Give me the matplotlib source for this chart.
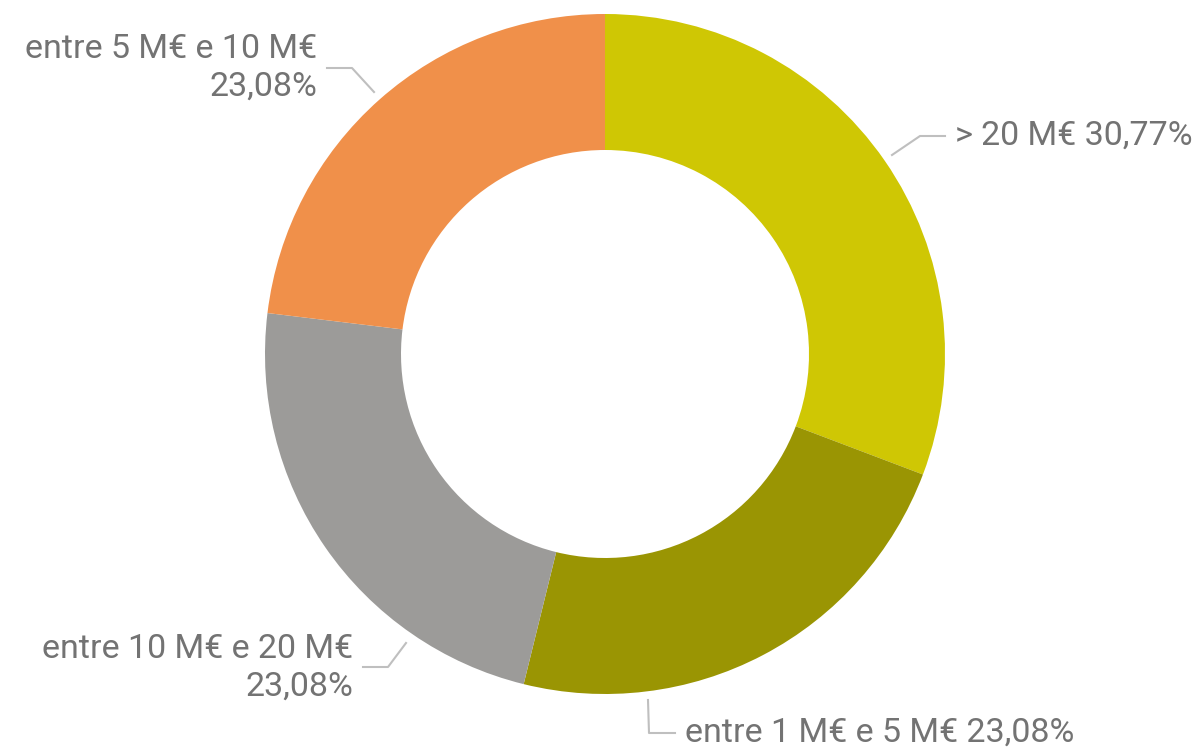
import matplotlib.pyplot as plt

# data
labels = ["> 20 M€", "entre 1 M€ e 5 M€", "entre 10 M€ e 20 M€", "entre 5 M€ e 10 M€"]
values = [30.77, 23.08, 23.08, 23.08]
colors = ["#CFC704", "#9A9503", "#9C9B99", "#F0904A"]

W, H = 1201, 747
cx, cy, R = 605, 354, 340   # pie centre / radius in pixels

plt.rcParams['font.family'] = ['Roboto', 'DejaVu Sans']
fig = plt.figure(figsize=(W / 100, H / 100), dpi=100)
ax = fig.add_axes([0, 0, 1, 1])
wedges, _ = ax.pie(values, colors=colors, startangle=90, counterclock=False,
                   radius=1, wedgeprops=dict(width=0.4, linewidth=0))
ax.set_xlim(-cx / R, (W - cx) / R)
ax.set_ylim(-(H - cy) / R, cy / R)
ax.set_aspect('equal')
ax.axis('off')


def px(x, y):
    # pixel -> data units
    return (x - cx) / R, (cy - y) / R


def pct(v):
    return f"{v:.2f}%".replace(".", ",")


# label layouts in pixels: leader start, elbow, line end, text anchor, ha, two lines?
layout = [
    ((892, 155), (920, 136), (945, 136), (955, 136), "left", False),
    ((648, 700), (649, 733), (675, 733), (685, 733), "left", False),
    ((406, 643), (388, 667), (363, 667), (353, 668), "right", True),
    ((374, 92), (352, 68), (327, 68), (317, 68), "right", True),
]

txt_col = "#737373"
line_col = "#BFBFBF"
for lab, v, (st, elb, end, tp, ha, two) in zip(labels, values, layout):
    pts = [px(*st), px(*elb), px(*end)]
    ax.plot([p[0] for p in pts], [p[1] for p in pts], color=line_col, lw=1.5)
    tx, ty = px(*tp)
    if two:
        s = lab + "\n" + pct(v)
    else:
        s = lab + " " + pct(v)
    ax.text(tx, ty, s, ha=ha, va="center", fontsize=24.5, color=txt_col,
            linespacing=1.22)

fig.savefig("out.png", dpi=100)
